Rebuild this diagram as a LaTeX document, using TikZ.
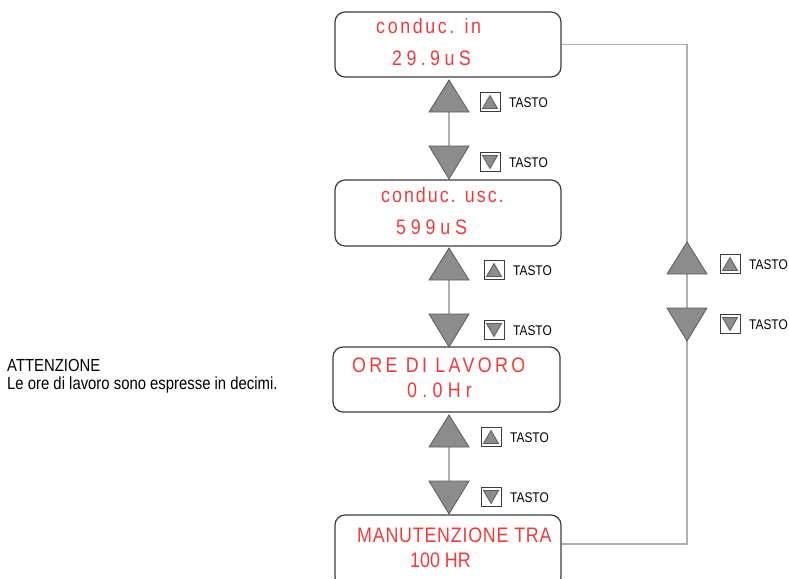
\documentclass[tikz,border=0pt]{standalone}
\usepackage{fontspec}
\setmainfont{Liberation Sans}
\newfontfamily\dispfont[FakeStretch=0.85]{Liberation Sans}
\newfontfamily\notefont[FakeStretch=0.85]{Liberation Sans}
\definecolor{dispred}{RGB}{240,58,58}
\definecolor{boxgray}{RGB}{60,60,60}
\definecolor{trigray}{RGB}{140,140,140}
\definecolor{linegray}{RGB}{175,175,175}
\tikzset{
  display/.style={draw=boxgray, line width=1.2pt, rounded corners=10pt,
    minimum width=226pt, minimum height=65pt, inner sep=0pt},
  disp/.style={text=dispred, inner sep=0pt, anchor=base west,
    font=\dispfont\fontsize{21}{25}\selectfont\addfontfeature{LetterSpace=#1}},
  tri/.style={fill=trigray, draw=trigray!65!black, line width=0.8pt},
  keybox/.style={draw=boxgray, line width=0.8pt, minimum width=20pt,
    minimum height=19pt, inner sep=0pt},
  keyup/.style={keybox, path picture={
    \draw[tri] ([xshift=-7.5pt,yshift=-6.5pt]path picture bounding box.center)
      -- ([xshift=7.5pt,yshift=-6.5pt]path picture bounding box.center)
      -- ([yshift=6.5pt]path picture bounding box.center) -- cycle;}},
  keydown/.style={keybox, path picture={
    \draw[tri] ([xshift=-7.5pt,yshift=6.5pt]path picture bounding box.center)
      -- ([xshift=7.5pt,yshift=6.5pt]path picture bounding box.center)
      -- ([yshift=-6.5pt]path picture bounding box.center) -- cycle;}},
  tasto/.style={inner sep=0pt, anchor=base west,
    font=\notefont\fontsize{14}{16}\selectfont},
  note/.style={inner sep=0pt, anchor=base west,
    font=\notefont\fontsize{17.5}{20}\selectfont},
  conn/.style={draw=linegray, line width=1.3pt},
}
\begin{document}
\begin{tikzpicture}[x=1pt, y=-1pt]
    \useasboundingbox (0,0) rectangle (789,578);

    % 显示框
    \node[display] (b1) at (448,44.5) {};
    \node[display, minimum height=66pt] (b2) at (448,213) {};
    \node[display, minimum width=227pt] (b3) at (446.5,379.5) {};
    \node[display, minimum height=72pt] (b4) at (448,551) {};

    \node[disp=12.5] (t1a) at (376,34) {conduc. in};
    \node[disp=21] (t1b) at (392,65) {29.9uS};
    \node[disp=9.5] (t2a) at (381,202) {conduc. usc.};
    \node[disp=23] (t2b) at (396,234) {599uS};
    \node[disp=16] (t3a) at (352,372) {ORE DI LAVORO};
    \node[disp=25] (t3b) at (407,397) {0.0Hr};
    \node[disp=3.7] (t4a) at (357,542) {MANUTENZIONE TRA};
    \node[disp=0] (t4b) at (410,567) {100 HR};

    % 右侧回路
    \coordinate (r1) at (687,44.5);
    \coordinate (r2) at (687,544);
    \draw[conn] (b1.east) -- (r1) -- (r2) -- ([yshift=7pt]b4.east);

    % 按键
    \foreach \x/\y/\k/\n in {449/80/480/1, 449/248/484/2, 449/415/481/3, 687/242/720/4} {
        \coordinate (u\n) at (\x,\y+32);
        \coordinate (d\n) at (\x,\y+66);
        \draw[conn] (u\n) -- (d\n);
        \draw[tri] (\x-20,\y+32) -- (\x+20,\y+32) -- (\x,\y) -- cycle;
        \draw[tri] (\x-20,\y+66) -- (\x+20,\y+66) -- (\x,\y+99) -- cycle;
        \node[keyup] (ku\n) at (\k+10,\y+22) {};
        \node[keydown] (kd\n) at (\k+10,\y+82) {};
        \node[tasto] (tu\n) at (\k+29,\y+27) {TASTO};
        \node[tasto] (td\n) at (\k+29,\y+87) {TASTO};
    }

    % 注意
    \node[note] (att) at (7,371) {ATTENZIONE};
    \node[note] (nota) at (7,389) {Le ore di lavoro sono espresse in decimi.};

\end{tikzpicture}
\end{document}
